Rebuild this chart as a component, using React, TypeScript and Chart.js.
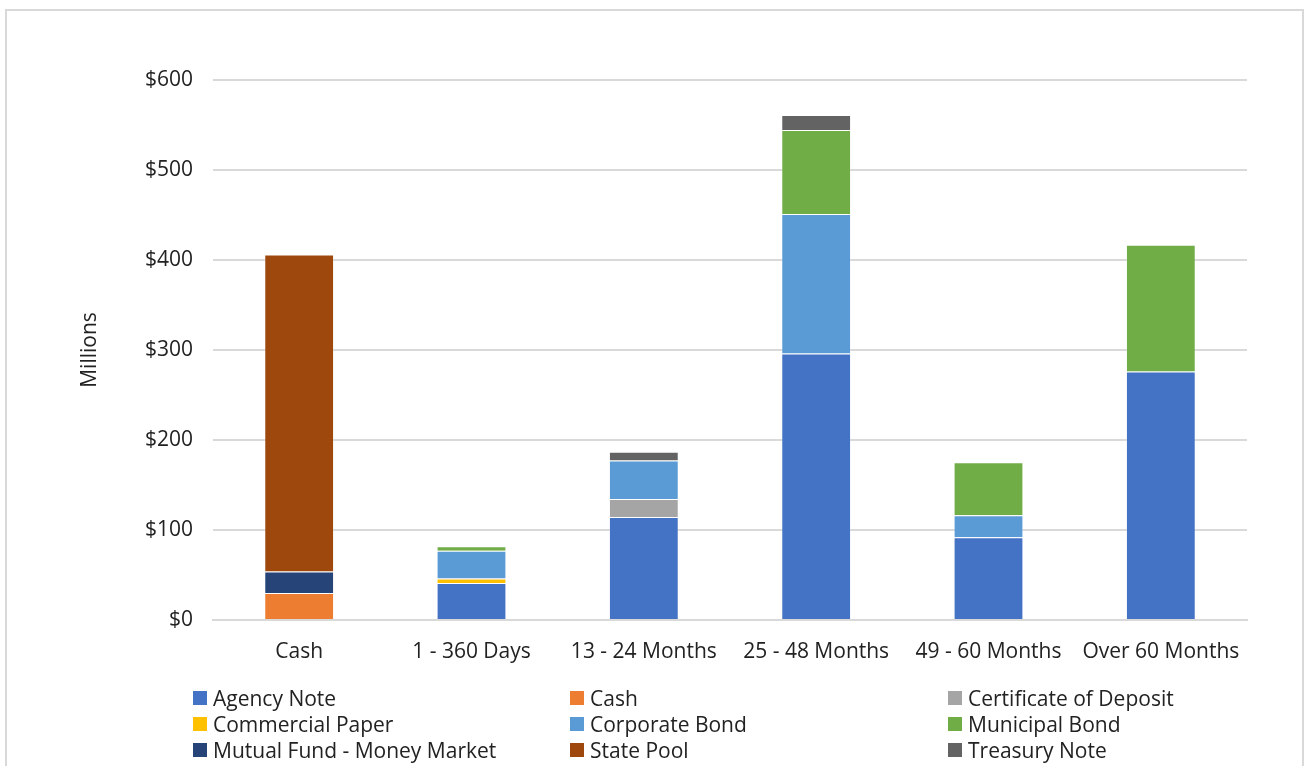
import React, { useEffect, useRef } from "react";
import { Chart, registerables } from "chart.js";

Chart.register(...registerables);

const categories = ["Cash", "1 - 360 Days", "13 - 24 Months", "25 - 48 Months", "49 - 60 Months", "Over 60 Months"];
const agencyNote = [0, 41, 114.5, 296, 92, 276];
const cash = [30, 0, 0, 0, 0, 0];
const certificateOfDeposit = [0, 0, 20, 0, 0, 0];
const commercialPaper = [0, 5, 0, 0, 0, 0];
const corporateBond = [0, 31, 42.7, 155, 24.4, 0];
const municipalBond = [0, 5, 0, 93.4, 59, 141];
const mutualFund = [24, 0, 0, 0, 0, 0];
const statePool = [352, 0, 0, 0, 0, 0];
const treasuryNote = [0, 0, 9.7, 16.6, 0, 0];
const yTicks = [0, 100, 200, 300, 400, 500, 600];

const seriesNames = [
  "Agency Note", "Cash", "Certificate of Deposit",
  "Commercial Paper", "Corporate Bond", "Municipal Bond",
  "Mutual Fund - Money Market", "State Pool", "Treasury Note",
];
const seriesData = [agencyNote, cash, certificateOfDeposit, commercialPaper, corporateBond, municipalBond, mutualFund, statePool, treasuryNote];
const seriesColors = ["#4472C4", "#ED7D31", "#A5A5A5", "#FFC000", "#5B9BD5", "#70AD47", "#264478", "#9E480E", "#636363"];

const FONT = "'Open Sans', 'Noto Sans', sans-serif";
const TEXT = "#222222";
const FS = 21;

export default function App() {
  const ref = useRef<HTMLCanvasElement | null>(null);
  useEffect(() => {
    if (!ref.current) return;
    const chart = new Chart(ref.current, {
      type: "bar",
      data: {
        labels: categories,
        datasets: seriesNames.map((n, i) => ({
          label: n,
          data: seriesData[i],
          backgroundColor: seriesColors[i],
          borderColor: "rgba(255,255,255,0.25)",
          borderWidth: 1,
          categoryPercentage: 1,
          barPercentage: 0.405,
        })),
      },
      options: {
        animation: false,
        responsive: false,
        maintainAspectRatio: false,
        layout: { padding: { top: 69, right: 55, left: 70, bottom: 0 } },
        plugins: { legend: { display: false }, tooltip: { enabled: false } },
        scales: {
          x: {
            stacked: true,
            grid: { display: false, drawTicks: false },
            border: { display: true, color: "#d9d9d9", width: 2 },
            ticks: { color: TEXT, font: { family: FONT, size: FS }, padding: 19 },
            afterFit: (s: any) => { s.height = 65; },
          },
          y: {
            stacked: true,
            min: 0,
            max: 600,
            afterBuildTicks: (s: any) => { s.ticks = yTicks.map((v) => ({ value: v })); },
            grid: { color: "#d9d9d9", lineWidth: 2, drawTicks: false },
            border: { display: false },
            ticks: {
              color: TEXT,
              font: { family: FONT, size: FS },
              padding: 20,
              callback: (v: any) => "$" + v,
            },
            title: { display: true, text: "Millions", color: TEXT, font: { family: FONT, size: FS }, padding: 0 },
            afterFit: (s: any) => { s.width = 136; },
          },
        },
      },
    });
    return () => chart.destroy();
  }, []);

  return (
    <div style={{ position: "absolute", left: 5, top: 9, width: 1299, height: 800, border: "2px solid #d9d9d9", boxSizing: "border-box", background: "#fff" }}>
      <canvas ref={ref} width={1295} height={674} style={{ display: "block", width: 1295, height: 674 }} />
      <div style={{ marginLeft: 186, display: "grid", gridTemplateColumns: "377px 378px 378px", fontFamily: FONT, fontSize: FS, color: TEXT }}>
        {seriesNames.map((n, i) => (
          <div key={n} style={{ display: "flex", alignItems: "center", height: 26, whiteSpace: "nowrap" }}>
            <span style={{ display: "inline-block", width: 14, height: 14, background: seriesColors[i], marginRight: 6 }} />
            <span>{n}</span>
          </div>
        ))}
      </div>
    </div>
  );
}
